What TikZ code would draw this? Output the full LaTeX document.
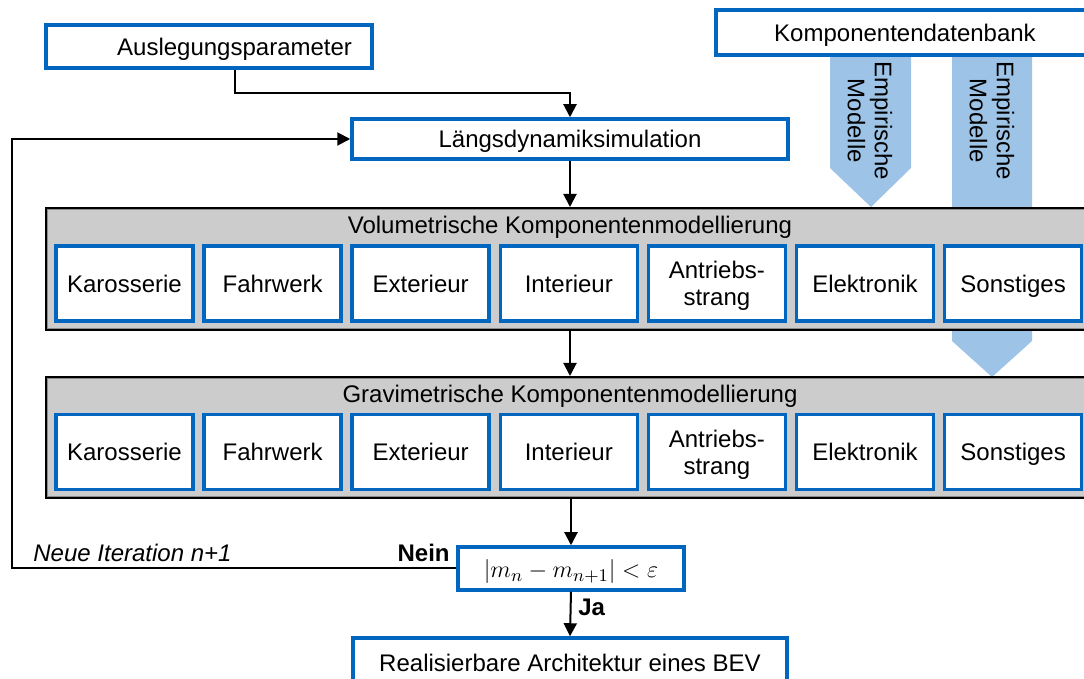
\documentclass[tikz,border=0pt]{standalone}
\usepackage{fontspec}
\setmainfont{Liberation Sans}
\usetikzlibrary{arrows.meta,calc}
\definecolor{blu}{RGB}{0,102,191}
\definecolor{lblu}{RGB}{157,195,230}
\definecolor{gry}{RGB}{204,204,204}
\definecolor{dgry}{RGB}{140,140,140}
\begin{document}
\fontsize{12}{13.5}\selectfont
\begin{tikzpicture}[x=0.5pt,y=-0.5pt,
  bx/.style 2 args={draw=blu, line width=1.75pt, fill=white, minimum width=#1*0.5pt, minimum height=#2*0.5pt, inner sep=0pt, align=center, text depth=0pt},
  cont/.style 2 args={draw=black, line width=1pt, fill=gry, minimum width=#1*0.5pt, minimum height=#2*0.5pt, inner sep=0pt},
  inline/.style={draw=dgry, line width=0.5pt},
  conn/.style={line width=1pt, -{Triangle[length=6.5pt,width=6.5pt]}},
  lbl/.style={inner sep=0pt},
  emp/.style={rotate=-90, align=center, inner sep=0pt}]
\useasboundingbox (0,0) rectangle (1084,679);
% light blue arrows
\fill[lblu] (830,55) -- (911,55) -- (911,168) -- (871,207) -- (830,168) -- cycle;
\fill[lblu] (952,55) -- (1032,55) -- (1032,341) -- (992,377) -- (952,341) -- cycle;
% top boxes
\node[bx={326}{43}, text width=143pt, align=right] (ausl) at (209,46.5) {Auslegungsparameter};
\node[bx={436}{40}] (laengs) at (570,139) {Längsdynamiksimulation};
\node[bx={378}{45}] (kdb) at (905,32.5) {Komponentendatenbank};
\node[emp] (em1) at (870,121) {Empirische\\Modelle};
\node[emp] (em2) at (992,121) {Empirische\\Modelle};
% volumetric
\node[cont={1060}{122}] (vol) at (576,269) {};
\draw[inline] ([shift={(2.5,2.5)}]vol.north west) rectangle ([shift={(-2.5,-2.5)}]vol.south east);
\node[lbl] (voltitle) at (570,227) {Volumetrische Komponentenmodellierung};
\foreach \n/\t [count=\i from 0] in {kar/Karosserie, fw/Fahrwerk, ext/Exterieur, int/Interieur, an/{Antriebs-\\strang}, el/Elektronik, so/Sonstiges}
  \node[bx={137}{75}] (v\n) at ({124.5+148.1*\i},283.5) {\t};
% gravimetric
\node[cont={1060}{121}] (grav) at (576,437.5) {};
\draw[inline] ([shift={(2.5,2.5)}]grav.north west) rectangle ([shift={(-2.5,-2.5)}]grav.south east);
\node[lbl] (gravtitle) at (570,396) {Gravimetrische Komponentenmodellierung};
\foreach \n/\t [count=\i from 0] in {kar/Karosserie, fw/Fahrwerk, ext/Exterieur, int/Interieur, an/{Antriebs-\\strang}, el/Elektronik, so/Sonstiges}
  \node[bx={137}{75}] (g\n) at ({124.5+148.1*\i},452) {\t};
% decision
\node[bx={226}{43}, font=\fontsize{13}{15}\selectfont] (cond) at (571,568.5) {$\left|m_n-m_{n+1}\right|<\varepsilon$};
\node[bx={434}{50}] (fin) at (570,663) {Realisierbare Architektur eines BEV};
% labels
\node[lbl, anchor=east, font=\bfseries] (nein) at (450,553) {Nein};
\node[lbl, anchor=west, font=\itshape] (neue) at (33,553) {Neue Iteration n+1};
\node[lbl, anchor=west, font=\bfseries] (ja) at (578,607) {Ja};
% connectors
\coordinate (a1) at (235,93);
\coordinate (fb) at (12,0);
\draw[conn] (a1 |- ausl.south) -- (a1) -| (laengs.north);
\draw[conn] (cond.west) -| (fb |- laengs.west) -- (laengs.west);
\draw[conn] (laengs.south) -- (laengs.south |- vol.north);
\draw[conn] (vol.south -| laengs.south) -- (grav.north -| laengs.south);
\draw[conn] (grav.south -| cond.north) -- (cond.north);
\draw[conn] (cond.south) -- (fin.north);
\end{tikzpicture}
\end{document}
